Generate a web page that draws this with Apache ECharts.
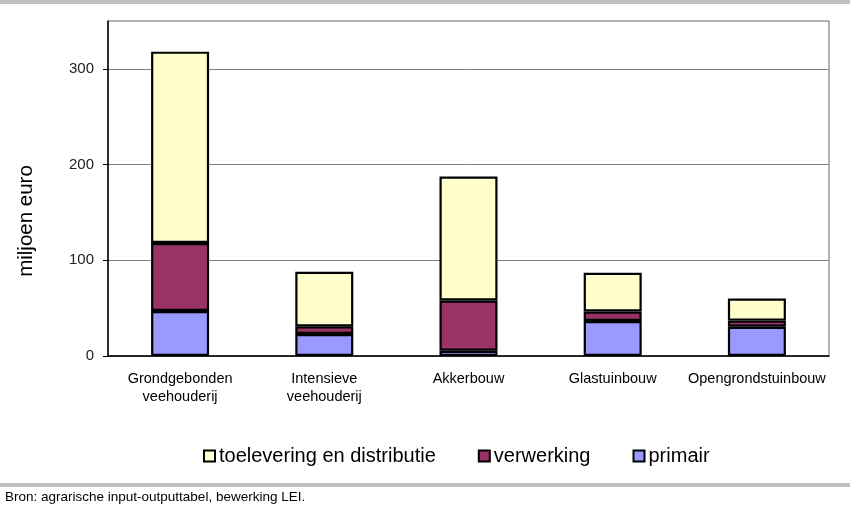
<!DOCTYPE html>
<html><head><meta charset="utf-8">
<script src="https://cdn.jsdelivr.net/npm/echarts@6/dist/echarts.min.js"></script>
<style>html,body{margin:0;padding:0;background:#fff}#c{width:850px;height:510px}</style>
</head><body><div id="c"></div>
<script>
const categories = ['Grondgebonden\nveehouderij', 'Intensieve\nveehouderij', 'Akkerbouw', 'Glastuinbouw', 'Opengrondstuinbouw'];
const primair = [47, 23, 5.5, 36.5, 30.5];
const verwerking = [71, 8, 52.5, 10, 6.5];
const toelevering = [200, 57, 129.5, 40.5, 23];
const yTicks = [0, 100, 200, 300];

const chart = echarts.init(document.getElementById('c'));
const font = "'Liberation Sans', Arial, sans-serif";
const segStyle = c => ({ color: c, borderColor: '#000', borderWidth: 2.2 });
chart.setOption({
  animation: false,
  textStyle: { fontFamily: font },
  grid: { left: 108, right: 21, top: 21, bottom: 154, show: true, borderColor: '#666', borderWidth: 1 },
  legend: {
    data: ['toelevering en distributie', 'verwerking', 'primair'],
    icon: 'rect',
    left: 198, top: 441, itemWidth: 11, itemHeight: 11, itemGap: 42,
    textStyle: { fontSize: 20, color: '#000', fontFamily: font, padding: [0, 0, 0, -1] },
    itemStyle: { borderColor: '#000', borderWidth: 2 }
  },
  xAxis: {
    type: 'category', data: categories,
    axisLine: { lineStyle: { color: '#000', width: 1.5 } },
    axisTick: { alignWithLabel: false, length: 5, lineStyle: { color: '#000' } },
    axisLabel: { fontSize: 14.5, color: '#000', lineHeight: 18, margin: 14, interval: 0 }
  },
  yAxis: {
    type: 'value', min: 0, max: 350, interval: 100,
    axisLine: { show: true, lineStyle: { color: '#000', width: 1.5 } },
    axisTick: { show: true, length: 5, lineStyle: { color: '#000' }, customValues: yTicks },
    axisLabel: { fontSize: 15, color: '#222', margin: 14, customValues: yTicks },
    splitLine: { lineStyle: { color: '#808080', width: 1 } }
  },
  series: [
    { name: 'primair', type: 'bar', stack: 's', data: primair, barWidth: 58, itemStyle: segStyle('#9999FF') },
    { name: 'verwerking', type: 'bar', stack: 's', data: verwerking, barWidth: 58, itemStyle: segStyle('#993366') },
    { name: 'toelevering en distributie', type: 'bar', stack: 's', data: toelevering, barWidth: 58, itemStyle: segStyle('#FFFFCC') }
  ],
  graphic: [
    { type: 'rect', shape: { x: 0, y: 0, width: 850, height: 4 }, style: { fill: '#c0c0c0' } },
    { type: 'rect', shape: { x: 0, y: 483, width: 850, height: 4 }, style: { fill: '#c0c0c0' } },
    { type: 'text', x: 26, y: 221, rotation: Math.PI / 2,
      style: { text: 'miljoen euro', fontSize: 20.5, fill: '#000', fontFamily: font, align: 'center', verticalAlign: 'middle' } },
    { type: 'text', left: 5, top: 490, style: { text: 'Bron: agrarische input-outputtabel, bewerking LEI.', fontSize: 13.5, fill: '#000', fontFamily: font } }
  ]
});
</script></body></html>
